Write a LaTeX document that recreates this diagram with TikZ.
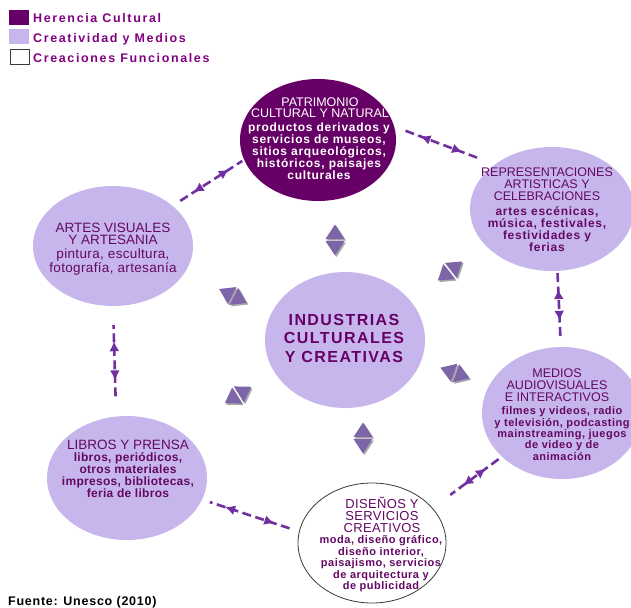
\documentclass[tikz,border=0pt]{standalone}
\usepackage{fontspec}
\setmainfont{Liberation Sans}
\newfontfamily\legendfont[LetterSpace=13]{Liberation Sans}
\newfontfamily\descwide[LetterSpace=6]{Liberation Sans}
\newfontfamily\descmid[LetterSpace=4.5]{Liberation Sans}
\newfontfamily\desctight[LetterSpace=2.5]{Liberation Sans}
\newfontfamily\hubfont[LetterSpace=9]{Liberation Sans}
\newfontfamily\sourcefont[LetterSpace=6]{Liberation Sans}
\usetikzlibrary{shapes.geometric,arrows.meta,decorations.markings}

\definecolor{plum}{HTML}{660066}
\definecolor{lilac}{HTML}{C6B6EB}
\definecolor{inkpurple}{HTML}{640864}
\definecolor{legendpurple}{HTML}{800080}
\definecolor{linkpurple}{HTML}{7030A0}
\definecolor{wedge}{HTML}{7D65A8}
\definecolor{wedgeshadow}{HTML}{A8A8A8}
\definecolor{rimgray}{HTML}{3A3A3A}

\begin{document}
\begin{tikzpicture}[x=1pt,y=-1pt,
  bubble/.style={ellipse, inner sep=0pt},
  heading/.style={align=center, inner sep=0pt, text=inkpurple, font=\fontsize{12.5}{12}\selectfont},
  blurb/.style={align=center, inner sep=0pt, text=inkpurple, font=\descwide\bfseries\fontsize{12}{12}\selectfont},
  key/.style={inner sep=0pt, minimum width=20pt, minimum height=15pt},
  keytext/.style={anchor=base west, inner sep=0pt, text=legendpurple, font=\legendfont\bfseries\fontsize{12.5}{12}\selectfont},
  link/.style 2 args={draw=linkpurple, line width=2.6pt, dash pattern=on 9pt off 4.5pt,
    shorten <=#1, shorten >=#2, postaction={decorate},
    decoration={markings,
      mark=at position #1+16pt with {\pgfsetdash{}{0pt}\arrowreversed{Latex[length=10pt,width=10pt]}},
      mark=at position -(#2+16pt) with {\pgfsetdash{}{0pt}\arrow{Latex[length=10pt,width=10pt]}}}}]
\useasboundingbox (0,0) rectangle (631,607);
\clip (0,0) rectangle (631,607);

\node[bubble, fill=plum, minimum width=156pt, minimum height=122pt] (patri) at (318,140) {};
\node[bubble, fill=lilac, minimum width=164pt, minimum height=124pt] (repr) at (552,209) {};
\node[bubble, fill=lilac, minimum width=160pt, minimum height=132pt] (medios) at (562,413) {};
\node[bubble, fill=white, draw=rimgray, line width=0.8pt, minimum width=148pt, minimum height=120pt] (dise) at (372,543) {};
\node[bubble, fill=lilac, minimum width=160pt, minimum height=124pt] (libros) at (127,478) {};
\node[bubble, fill=lilac, minimum width=160pt, minimum height=120pt] (artes) at (113,246) {};
\node[bubble, fill=lilac, minimum width=160pt, minimum height=136pt] (hub) at (345,340) {};

\foreach \tx/\ty/\ta in {335/240/90, 450/271/38, 455/373/-20, 363/438/90, 238/395/212, 233/296/153} {
  \begin{scope}[shift={(\tx+1.5,\ty+1.5)}, rotate=\ta]
    \fill[wedgeshadow] (1,-9.5) -- (15.5,0) -- (1,9.5) -- cycle (-1,-9.5) -- (-15.5,0) -- (-1,9.5) -- cycle;
  \end{scope}
  \begin{scope}[shift={(\tx,\ty)}, rotate=\ta]
    \fill[wedge] (1,-9.5) -- (15.5,0) -- (1,9.5) -- cycle (-1,-9.5) -- (-15.5,0) -- (-1,9.5) -- cycle;
  \end{scope}
}

\draw[link={9pt}{2pt}] (artes.34) -- (patri.195);
\draw[link={12pt}{19pt}] (patri.10) -- (repr.142);
\draw[link={2pt}{10pt}] (repr.-85) -- (medios.91);
\draw[link={4pt}{22pt}] (medios.216) -- (dise.30);
\draw[link={10pt}{8pt}] (dise.171) -- (libros.-16);
\draw[link={20pt}{19pt}] (libros.100) -- (artes.-90);

\node[heading, text=white, font=\fontsize{12.5}{11}\selectfont] (patri-title) at (320,107.5) {PATRIMONIO\\CULTURAL Y NATURAL};
\node[blurb, text=white] (patri-desc) at (319,151) {productos derivados y\\servicios de museos,\\sitios arqueológicos,\\históricos, paisajes\\culturales};

\node[heading] (repr-title) at (547,184) {REPRESENTACIONES\\ARTISTICAS Y\\CELEBRACIONES};
\node[blurb] (repr-desc) at (547,229) {artes escénicas,\\música, festivales,\\festividades y\\ferias};

\node[heading] (medios-title) at (557,385) {MEDIOS\\AUDIOVISUALES\\E INTERACTIVOS};
\node[blurb, font=\descmid\bfseries\fontsize{11}{11.3}\selectfont] (medios-desc) at (562,433.5) {filmes y videos, radio\\y televisión, podcasting\\mainstreaming, juegos\\de video y de\\animación};

\node[heading, font=\desctight\fontsize{13}{12}\selectfont] (dise-title) at (382,515) {DISEÑOS Y\\SERVICIOS\\CREATIVOS};
\node[blurb, font=\descmid\bfseries\fontsize{11}{11.5}\selectfont] (dise-desc) at (381,564) {moda, diseño gráfico,\\diseño interior,\\paisajismo, servicios\\de arquitectura y\\de publicidad};

\node[heading, font=\fontsize{13.5}{12}\selectfont] (libros-title) at (128,444.5) {LIBROS Y PRENSA};
\node[blurb, font=\desctight\bfseries\fontsize{12}{12}\selectfont] (libros-desc) at (128,475.5) {libros, periódicos,\\otros materiales\\impresos, bibliotecas,\\feria de libros};

\node[heading, font=\fontsize{13.5}{12}\selectfont] (artes-title) at (113,234) {ARTES VISUALES\\Y ARTESANIA};
\node[blurb, font=\desctight\fontsize{13.5}{12}\selectfont] (artes-desc) at (113,262) {pintura, escultura,\\fotografía, artesanía};

\node[align=center, inner sep=0pt, text=plum, font=\hubfont\bfseries\fontsize{16}{18.5}\selectfont] (hub-txt) at (344,338) {INDUSTRIAS\\CULTURALES\\Y CREATIVAS};

\node[key, fill=plum] (key-heritage) at (19,17.5) {};
\node[key, fill=lilac] (key-media) at (19,36.5) {};
\node[key, fill=white, draw=rimgray, line width=0.8pt, minimum width=19pt] (key-func) at (19.5,56.5) {};
\node[keytext] (key-heritage-txt) at (33,22.7) {Herencia Cultural};
\node[keytext] (key-media-txt) at (33,42.3) {Creatividad y Medios};
\node[keytext] (key-func-txt) at (33,62.7) {Creaciones Funcionales};

\node[anchor=base west, inner sep=0pt, font=\sourcefont\bfseries\fontsize{12.5}{12}\selectfont] (source) at (8,605) {Fuente: Unesco (2010)};
\end{tikzpicture}
\end{document}
